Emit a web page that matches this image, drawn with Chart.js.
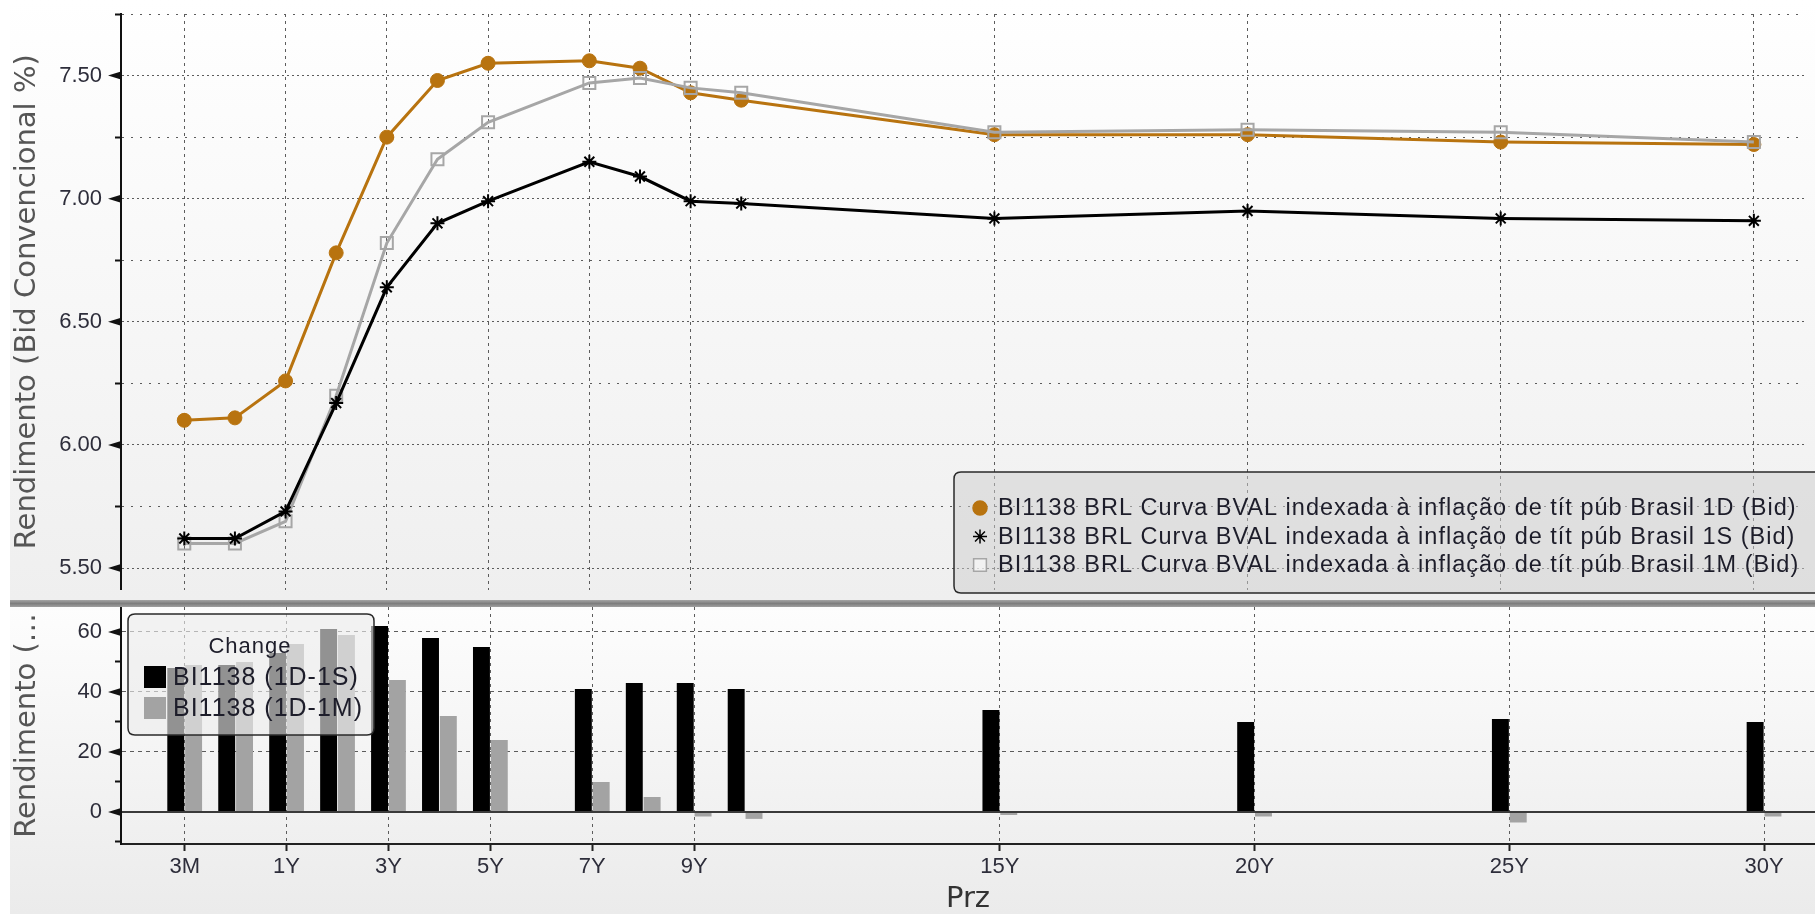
<!DOCTYPE html>
<html lang="pt-BR">
<head>
<meta charset="utf-8">
<title>BI1138 - Curva BVAL</title>
<script src="https://cdn.jsdelivr.net/npm/chart.js@4.4.1/dist/chart.umd.min.js"></script>
<style>
    html, body { margin: 0; padding: 0; background: #fff; }
    #tela      { position: relative; width: 1815px; height: 914px; overflow: hidden; background: #fff; }
    .fundo     { position: absolute; left: 10px; right: 0; }
    #fundo-topo { top: 0; height: 600px; background: linear-gradient(#ffffff, #efefef); }
    #fundo-base { top: 607px; height: 307px; background: linear-gradient(#fdfdfd, #ebebeb); }
    #separador { position: absolute; left: 10px; right: 0; top: 600px; height: 7px;
                 background: linear-gradient(#a5a5a5, #7e7e7e 50%, #a0a0a0); }
    canvas     { position: absolute; left: 0; }
    #grafico-curvas  { top: 0; }
    #grafico-mudanca { top: 607px; }
</style>
</head>
<body>
<div id="tela">
    <div class="fundo" id="fundo-topo"></div>
    <div id="separador"></div>
    <div class="fundo" id="fundo-base"></div>
    <canvas id="grafico-curvas" width="1815" height="600"></canvas>
    <canvas id="grafico-mudanca" width="1815" height="307"></canvas>
</div>
<script>
// ===== DADOS =====
const prazos     = ['3M', '6M', '1Y', '2Y', '3Y', '4Y', '5Y', '7Y', '8Y', '9Y', '10Y', '15Y', '20Y', '25Y', '30Y'];
const posicaoPrz = [-1, 0, 1, 2, 3, 4, 5, 7, 8, 9, 10, 15, 20, 25, 30];
const rotulosX   = ['3M', '1Y', '3Y', '5Y', '7Y', '9Y', '15Y', '20Y', '25Y', '30Y'];

const curva1D = [6.10, 6.11, 6.26, 6.78, 7.25, 7.48, 7.55, 7.56, 7.53, 7.43, 7.40, 7.26, 7.26, 7.23, 7.22];
const curva1S = [5.62, 5.62, 5.73, 6.17, 6.64, 6.90, 6.99, 7.15, 7.09, 6.99, 6.98, 6.92, 6.95, 6.92, 6.91];
const curva1M = [5.60, 5.60, 5.69, 6.20, 6.82, 7.16, 7.31, 7.47, 7.49, 7.45, 7.43, 7.27, 7.28, 7.27, 7.23];

const mudanca1S = [48, 49, 53, 61, 62, 58, 55, 41, 43, 43, 41, 34, 30, 31, 30];
const mudanca1M = [49, 50, 56, 59, 44, 32, 24, 10, 5, -1.5, -2.3, -1, -1.5, -3.5, -1.5];

const nomesCurvas = [
    'BI1138 BRL Curva BVAL indexada à inflação de tít púb Brasil 1D (Bid)',
    'BI1138 BRL Curva BVAL indexada à inflação de tít púb Brasil 1S (Bid)',
    'BI1138 BRL Curva BVAL indexada à inflação de tít púb Brasil 1M (Bid)'
];
const nomesMudanca = ['BI1138 (1D-1S)', 'BI1138 (1D-1M)'];

const ticksTopo      = [5.50, 5.75, 6.00, 6.25, 6.50, 6.75, 7.00, 7.25, 7.50, 7.75];
const rotulosTopo    = [5.50, 6.00, 6.50, 7.00, 7.50];
const ticksBase      = [-10, 0, 10, 20, 30, 40, 50, 60];
const rotulosBase    = [0, 20, 40, 60];

// ===== ESTILO =====
const FONTE        = "'Liberation Sans', Arial, sans-serif";
const FONTE_TITULO = "'DejaVu Sans', Verdana, sans-serif";
const LARANJA      = '#b8730f';
const CINZA        = '#a6a6a6';
const COR_TEXTO    = '#2d2d3a';
const COR_GRADE    = '#5c5c5c';

// ===== HELPERS =====
const pontos    = serie => serie.map((v, i) => ({ x: posicaoPrz[i], y: v }));
const rotuloPrz = v => { const i = posicaoPrz.indexOf(v); return i >= 0 ? prazos[i] : ''; };
const ticksX    = rotulosX.map(r => posicaoPrz[prazos.indexOf(r)]);

function caixaArredondada(c, x, y, w, h, r) {
    c.beginPath();
    c.moveTo(x + r, y);
    c.lineTo(x + w - r, y);
    c.quadraticCurveTo(x + w, y, x + w, y + r);
    c.lineTo(x + w, y + h - r);
    c.quadraticCurveTo(x + w, y + h, x + w - r, y + h);
    c.lineTo(x + r, y + h);
    c.quadraticCurveTo(x, y + h, x, y + h - r);
    c.lineTo(x, y + r);
    c.quadraticCurveTo(x, y, x + r, y);
    c.closePath();
}

function escalaX(mostrar) {
    return {
        type: 'linear',
        min: -2.25,
        max: 31,
        offset: false,
        afterBuildTicks: s => { s.ticks = ticksX.map(v => ({ value: v })); },
        afterFit: s => { s.height = mostrar ? 70 : 0; s.paddingLeft = 0; s.paddingRight = 0; },
        grid: { offset: false, color: COR_GRADE, lineWidth: 1, drawTicks: mostrar, tickLength: 7, tickWidth: 2, tickColor: '#222' },
        border: { display: mostrar, color: '#222', width: 2, dash: ctx => ctx.tick ? [3, 4] : [] },
        ticks: {
            display: mostrar, autoSkip: false, maxRotation: 0, padding: 3,
            color: COR_TEXTO, font: { family: FONTE, size: 22 },
            callback: v => rotuloPrz(v)
        },
        title: { display: mostrar, text: 'Prz', color: '#333', font: { family: FONTE_TITULO, size: 29, lineHeight: 1 }, padding: 0 }
    };
}

function escalaY(cfg) {
    const principal = v => cfg.rotulos.includes(v);
    return {
        type: 'linear',
        min: cfg.min,
        max: cfg.max,
        afterBuildTicks: s => { s.ticks = cfg.ticks.map(v => ({ value: v })); },
        afterFit: s => { s.width = 121; s.paddingTop = 0; s.paddingBottom = 0; },
        grid: {
            color: cfg.corGrade,
            lineWidth: ctx => (ctx.tick && ctx.tick.value === 0 && cfg.linhaZero) ? 2 : 1,
            tickLength: 6,
            tickWidth: 2,
            tickColor: ctx => principal(ctx.tick.value) ? 'rgba(0,0,0,0)' : '#111'
        },
        border: { color: '#111', width: 2, dash: ctx => ctx.tick ? cfg.traco(ctx.tick.value) : [] },
        ticks: {
            padding: 13, color: COR_TEXTO, font: { family: FONTE, size: 22 },
            callback: v => principal(v) ? v.toFixed(cfg.casas) : ''
        },
        title: { display: true, text: cfg.titulo, color: '#555', font: { family: FONTE_TITULO, size: 29 }, padding: { top: 10, bottom: 0 } }
    };
}

// ===== PLUGINS =====
const setasEixo = {
    id: 'setasEixo',
    afterDraw(chart, args, opts) {
        const s = chart.scales.y;
        const c = chart.ctx;
        c.save();
        c.fillStyle = '#111';
        opts.valores.forEach(v => {
            const y = s.getPixelForValue(v);
            const x = s.right;
            c.beginPath();
            c.moveTo(x, y - 4);
            c.lineTo(x - 13, y);
            c.lineTo(x, y + 4);
            c.closePath();
            c.fill();
        });
        c.restore();
    }
};

const legendaCurvas = {
    id: 'legendaCurvas',
    afterDraw(chart) {
        const c = chart.ctx;
        c.save();
        caixaArredondada(c, 954, 472, 900, 121, 7);
        c.fillStyle = 'rgba(205,205,205,0.5)';
        c.fill();
        c.lineWidth = 1.5;
        c.strokeStyle = '#2a2a2a';
        c.stroke();
        c.font = '23.5px ' + FONTE;
        c.letterSpacing = '1px';
        c.textBaseline = 'middle';
        chart.data.datasets.forEach((ds, i) => {
            const y = 508 + i * 28.5;
            c.fillStyle = ds.legendaFundo;
            c.strokeStyle = ds.pointBorderColor;
            Chart.helpers.drawPoint(c, { pointStyle: ds.pointStyle, radius: ds.legendaRaio, borderWidth: ds.pointBorderWidth, rotation: 0 }, 980, y);
            c.fillStyle = '#1d1d2a';
            c.fillText(ds.label, 998, y + 1);
        });
        c.restore();
    }
};

const legendaMudanca = {
    id: 'legendaMudanca',
    afterDraw(chart) {
        const c = chart.ctx;
        c.save();
        caixaArredondada(c, 128, 7, 246, 121, 7);
        c.fillStyle = 'rgba(236,236,236,0.62)';
        c.fill();
        c.lineWidth = 1.5;
        c.strokeStyle = '#2a2a2a';
        c.stroke();
        c.textBaseline = 'middle';
        c.letterSpacing = '1px';
        c.font = '22px ' + FONTE;
        c.textAlign = 'center';
        c.fillStyle = '#1d1d2a';
        c.fillText('Change', 250, 40);
        c.textAlign = 'left';
        c.font = '25px ' + FONTE;
        chart.data.datasets.forEach((ds, i) => {
            const y = 70 + i * 31;
            c.fillStyle = ds.backgroundColor;
            c.fillRect(144, y - 11, 22, 22);
            c.fillStyle = '#1d1d2a';
            c.fillText(ds.label, 173, y + 1);
        });
        c.restore();
    }
};

// ===== GRÁFICO DE LINHAS — Curvas =====
new Chart(document.getElementById('grafico-curvas').getContext('2d'), {
    type: 'line',
    data: {
        datasets: [
            {
                label: nomesCurvas[0], data: pontos(curva1D), order: 3,
                borderColor: LARANJA, borderWidth: 3,
                pointStyle: 'circle', pointRadius: 7, pointBorderWidth: 1,
                pointBackgroundColor: LARANJA, pointBorderColor: LARANJA,
                legendaFundo: LARANJA, legendaRaio: 7
            },
            {
                label: nomesCurvas[1], data: pontos(curva1S), order: 1,
                borderColor: '#000', borderWidth: 3,
                pointStyle: 'star', pointRadius: 7, pointBorderWidth: 2,
                pointBackgroundColor: '#000', pointBorderColor: '#000',
                legendaFundo: '#000', legendaRaio: 7
            },
            {
                label: nomesCurvas[2], data: pontos(curva1M), order: 2,
                borderColor: CINZA, borderWidth: 3,
                pointStyle: 'rect', pointRadius: 8.5, pointBorderWidth: 2,
                pointBackgroundColor: 'rgba(0,0,0,0)', pointBorderColor: CINZA,
                legendaFundo: 'rgba(255,255,255,0.6)', legendaRaio: 9
            }
        ]
    },
    options: {
        responsive: false,
        animation: false,
        layout: { padding: { top: 14, left: 0, right: 0, bottom: 0 } },
        plugins: {
            legend: { display: false },
            tooltip: { enabled: false },
            setasEixo: { valores: rotulosTopo }
        },
        scales: {
            x: escalaX(false),
            y: escalaY({
                min: 5.413, max: 7.75, ticks: ticksTopo, rotulos: rotulosTopo, casas: 2,
                corGrade: COR_GRADE, linhaZero: false,
                traco: v => rotulosTopo.includes(v) ? [2, 3] : [2, 7],
                titulo: 'Rendimento (Bid Convencional %)'
            })
        }
    },
    plugins: [setasEixo, legendaCurvas]
});

// ===== GRÁFICO DE BARRAS — Change =====
new Chart(document.getElementById('grafico-mudanca').getContext('2d'), {
    type: 'bar',
    data: {
        datasets: [
            { label: nomesMudanca[0], data: pontos(mudanca1S), backgroundColor: '#000' },
            { label: nomesMudanca[1], data: pontos(mudanca1M), backgroundColor: '#a3a3a3' }
        ]
    },
    options: {
        responsive: false,
        animation: false,
        categoryPercentage: 0.7,
        barPercentage: 0.95,
        layout: { padding: 0 },
        plugins: {
            legend: { display: false },
            tooltip: { enabled: false },
            setasEixo: { valores: rotulosBase }
        },
        scales: {
            x: escalaX(true),
            y: escalaY({
                min: -10.67, max: 68.33, ticks: ticksBase, rotulos: rotulosBase, casas: 0,
                corGrade: ctx => {
                    const v = ctx.tick ? ctx.tick.value : null;
                    if (v === 0) return '#3a3a3a';
                    return rotulosBase.includes(v) ? COR_GRADE : 'rgba(0,0,0,0)';
                },
                linhaZero: true,
                traco: v => v === 0 ? [] : [4, 4],
                titulo: 'Rendimento (…'
            })
        }
    },
    plugins: [setasEixo, legendaMudanca]
});
</script>
</body>
</html>
